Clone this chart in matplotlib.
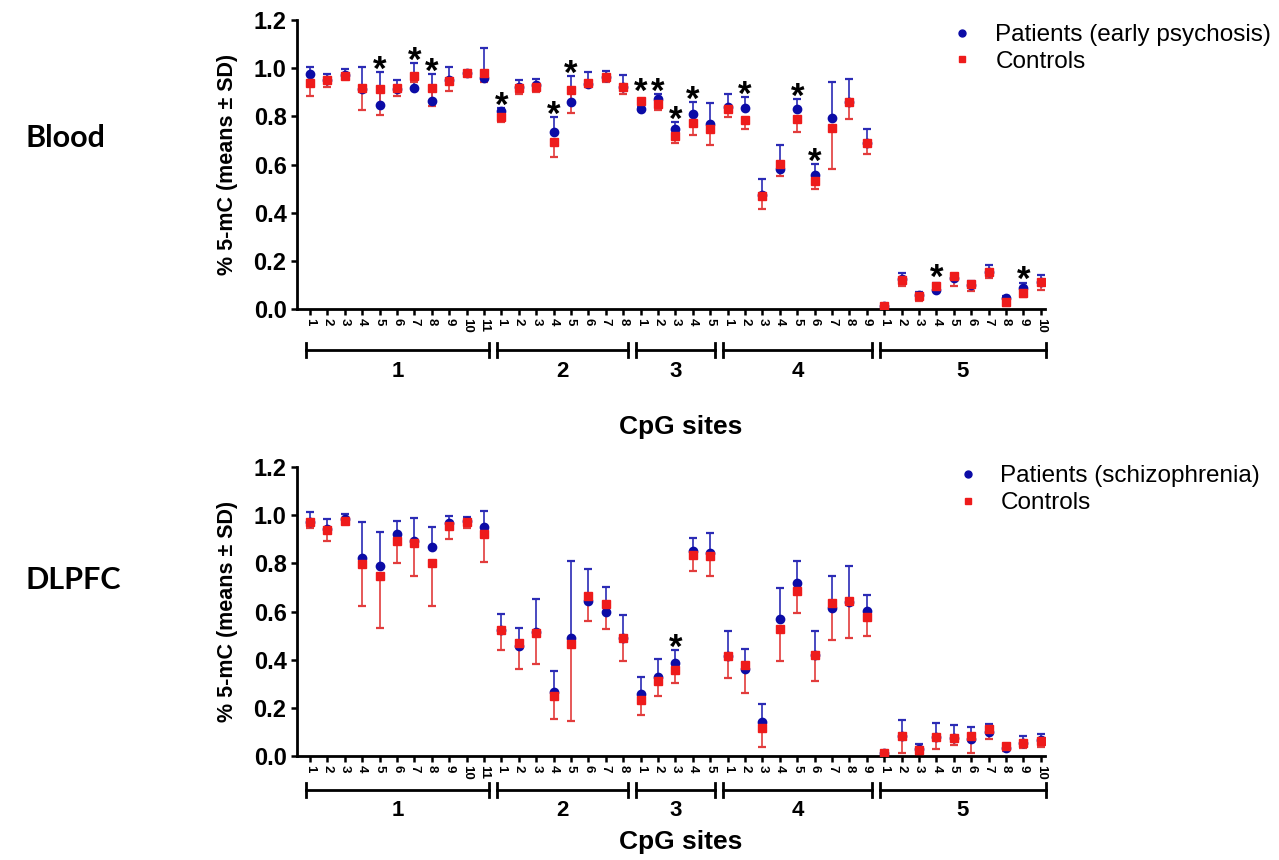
import numpy as np
import matplotlib
matplotlib.use("Agg")
import matplotlib.pyplot as plt
from matplotlib.lines import Line2D
import matplotlib.transforms as mtransforms

plt.rcParams["font.family"] = ["Liberation Sans", "DejaVu Sans"]

# CpG sites per region (5 regions)
group_sizes = [11, 8, 5, 9, 10]
group_names = ["1", "2", "3", "4", "5"]

# Blood: patients (early psychosis) vs controls
blood_pat_mean = [0.975, 0.951, 0.970, 0.912, 0.847, 0.914, 0.916, 0.865, 0.951, 0.980, 0.958,
                  0.822, 0.923, 0.930, 0.734, 0.858, 0.935, 0.962, 0.920,
                  0.830, 0.872, 0.747, 0.810, 0.768,
                  0.840, 0.836, 0.473, 0.580, 0.832, 0.556, 0.794, 0.861, 0.688,
                  0.014, 0.123, 0.058, 0.079, 0.127, 0.100, 0.155, 0.044, 0.086, 0.113]
blood_pat_sd = [0.028, 0.023, 0.025, 0.091, 0.136, 0.037, 0.104, 0.111, 0.052, 0.010, 0.124,
                0.012, 0.028, 0.025, 0.064, 0.109, 0.049, 0.027, 0.052,
                0.010, 0.019, 0.029, 0.048, 0.086,
                0.053, 0.043, 0.065, 0.101, 0.039, 0.045, 0.150, 0.094, 0.059,
                0.006, 0.028, 0.012, 0.031, 0.020, 0.016, 0.028, 0.011, 0.024, 0.027]
blood_ctl_mean = [0.940, 0.950, 0.967, 0.919, 0.912, 0.917, 0.967, 0.917, 0.948, 0.980, 0.981,
                  0.798, 0.917, 0.923, 0.695, 0.908, 0.937, 0.965, 0.920,
                  0.865, 0.850, 0.718, 0.774, 0.746,
                  0.829, 0.785, 0.469, 0.601, 0.790, 0.533, 0.750, 0.861, 0.688,
                  0.014, 0.120, 0.056, 0.095, 0.137, 0.102, 0.155, 0.030, 0.068, 0.113]
blood_ctl_sd = [0.056, 0.027, 0.012, 0.093, 0.107, 0.033, 0.023, 0.074, 0.042, 0.013, 0.039,
                0.020, 0.026, 0.023, 0.063, 0.093, 0.015, 0.021, 0.029,
                0.035, 0.024, 0.028, 0.052, 0.065,
                0.031, 0.039, 0.055, 0.049, 0.054, 0.035, 0.170, 0.070, 0.044,
                0.008, 0.023, 0.021, 0.020, 0.042, 0.027, 0.025, 0.016, 0.018, 0.033]
blood_sig = [(1, 5), (1, 7), (1, 8), (2, 1), (2, 4), (2, 5), (3, 1), (3, 2), (3, 3), (3, 4),
             (4, 2), (4, 5), (4, 6), (5, 4), (5, 9)]

# DLPFC: patients (schizophrenia) vs controls
dlpfc_pat_mean = [0.973, 0.941, 0.984, 0.821, 0.789, 0.920, 0.894, 0.869, 0.966, 0.975, 0.952,
                  0.523, 0.457, 0.514, 0.267, 0.489, 0.645, 0.597, 0.489,
                  0.257, 0.327, 0.388, 0.851, 0.842,
                  0.415, 0.361, 0.142, 0.570, 0.720, 0.419, 0.616, 0.641, 0.603,
                  0.011, 0.083, 0.028, 0.080, 0.076, 0.070, 0.098, 0.032, 0.055, 0.066]
dlpfc_pat_sd = [0.041, 0.043, 0.021, 0.152, 0.142, 0.054, 0.093, 0.083, 0.030, 0.018, 0.066,
                0.067, 0.076, 0.139, 0.086, 0.319, 0.133, 0.103, 0.095,
                0.073, 0.078, 0.052, 0.055, 0.085,
                0.105, 0.085, 0.073, 0.126, 0.090, 0.100, 0.133, 0.148, 0.065,
                0.005, 0.067, 0.022, 0.058, 0.053, 0.050, 0.037, 0.018, 0.028, 0.024]
dlpfc_ctl_mean = [0.970, 0.938, 0.978, 0.797, 0.747, 0.894, 0.886, 0.800, 0.955, 0.973, 0.922,
                  0.523, 0.470, 0.510, 0.250, 0.465, 0.666, 0.630, 0.489,
                  0.233, 0.313, 0.357, 0.835, 0.830,
                  0.415, 0.378, 0.115, 0.527, 0.686, 0.419, 0.634, 0.643, 0.578,
                  0.011, 0.083, 0.025, 0.080, 0.076, 0.085, 0.112, 0.043, 0.055, 0.063]
dlpfc_ctl_sd = [0.025, 0.044, 0.013, 0.173, 0.214, 0.091, 0.139, 0.176, 0.055, 0.028, 0.115,
                0.083, 0.110, 0.128, 0.095, 0.320, 0.104, 0.103, 0.095,
                0.064, 0.064, 0.053, 0.067, 0.083,
                0.093, 0.115, 0.076, 0.131, 0.091, 0.106, 0.152, 0.154, 0.080,
                0.006, 0.072, 0.020, 0.052, 0.030, 0.074, 0.042, 0.023, 0.023, 0.026]
dlpfc_sig = [(3, 3)]

BLUE = "#0b0ba6"
BLUE_ERR = "#2b2bb5"
RED = "#ee1b1b"
RED_ERR = "#e23c3c"

starts = np.cumsum([0] + group_sizes[:-1])
x = np.arange(1, sum(group_sizes) + 1)
tick_labels = [str(i + 1) for n in group_sizes for i in range(n)]


def draw_panel(ax, pat_m, pat_sd, ctl_m, ctl_sd, sig, bracket_y, label_y):
    pat_m, pat_sd = np.array(pat_m), np.array(pat_sd)
    ctl_m, ctl_sd = np.array(ctl_m), np.array(ctl_sd)

    # one-sided SD bars: patients up, controls down
    ax.vlines(x, pat_m, pat_m + pat_sd, color=BLUE_ERR, lw=1.2, zorder=2)
    ax.plot(x, pat_m + pat_sd, ls="none", marker="_", ms=6, mew=1.6, color=BLUE_ERR, zorder=2)
    ax.vlines(x, ctl_m - ctl_sd, ctl_m, color=RED_ERR, lw=1.2, zorder=2)
    ax.plot(x, ctl_m - ctl_sd, ls="none", marker="_", ms=6, mew=1.6, color=RED_ERR, zorder=2)

    ax.plot(x, pat_m, ls="none", marker="o", ms=6, color=BLUE, mec=BLUE, zorder=3)
    ax.plot(x, ctl_m, ls="none", marker="s", ms=6.3, color=RED, mec=RED, zorder=4)

    for g, s in sig:
        i = starts[g - 1] + s - 1
        top = max(pat_m[i] + pat_sd[i], ctl_m[i] + 0.025)
        ax.annotate("*", (x[i], top), xytext=(0, -5.5), textcoords="offset points",
                    ha="center", va="baseline", fontsize=25, fontweight="bold",
                    color="black")

    ax.set_xlim(0.25, 43.25)
    ax.set_ylim(0, 1.2)
    ax.set_yticks(np.arange(0, 1.21, 0.2))
    ax.set_yticklabels([f"{v:.1f}" for v in np.arange(0, 1.21, 0.2)],
                       fontsize=17, fontweight="bold")
    ax.set_xticks(x)
    ax.set_xticklabels(tick_labels, rotation=270, fontsize=9.5, fontweight="bold",
                       ha="center", va="top")
    for side in ["top", "right"]:
        ax.spines[side].set_visible(False)
    for side in ["left", "bottom"]:
        ax.spines[side].set_linewidth(2.0)
    ax.tick_params(axis="both", direction="out", length=4.5, width=1.8, pad=2)
    ax.tick_params(axis="y", pad=3)

    # region brackets below the axis
    trans = mtransforms.blended_transform_factory(ax.transData, ax.transAxes)
    for k, n in enumerate(group_sizes):
        x0 = x[starts[k]] - 0.25
        x1 = x[starts[k] + n - 1] + 0.3
        ax.plot([x0, x1], [bracket_y, bracket_y], color="black", lw=2.0,
                transform=trans, clip_on=False)
        for xe in (x0, x1):
            ax.plot([xe, xe], [bracket_y - 0.024, bracket_y + 0.024], color="black",
                    lw=2.0, transform=trans, clip_on=False)
        ax.text((x0 + x1) / 2, label_y, group_names[k], transform=trans,
                ha="center", va="center", fontsize=16, fontweight="bold")


fig = plt.figure(figsize=(12.79, 8.6), dpi=100)
ax1 = fig.add_axes([0.2322, 0.6407, 0.585, 0.336])
ax2 = fig.add_axes([0.2322, 0.1209, 0.585, 0.336])

draw_panel(ax1, blood_pat_mean, blood_pat_sd, blood_ctl_mean, blood_ctl_sd, blood_sig,
           -0.142, -0.218)
draw_panel(ax2, dlpfc_pat_mean, dlpfc_pat_sd, dlpfc_ctl_mean, dlpfc_ctl_sd, dlpfc_sig,
           -0.118, -0.187)

for ax, yc in ((ax1, 0.809), (ax2, 0.289)):
    fig.text(0.178, yc, "% 5-mC (means \u00b1 SD)", rotation=90, ha="center", va="center",
             fontsize=15.5, fontweight="bold")

fig.text(0.532, 0.5035, "CpG sites", ha="center", va="center", fontsize=19, fontweight="bold")
fig.text(0.532, 0.021, "CpG sites", ha="center", va="center", fontsize=19, fontweight="bold")

fig.text(0.020, 0.840, "Blood", ha="left", va="center", fontsize=22, fontweight="bold",
         family=["Lato", "DejaVu Sans"])
fig.text(0.020, 0.326, "DLPFC", ha="left", va="center", fontsize=22, fontweight="bold",
         family=["Lato", "DejaVu Sans"])

for ax, name, anchor in ((ax1, "Patients (early psychosis)", (0.743, 0.972)),
                         (ax2, "Patients (schizophrenia)", (0.747, 0.459))):
    handles = [Line2D([], [], ls="none", marker="o", ms=5, color=BLUE),
               Line2D([], [], ls="none", marker="s", ms=5, color=RED)]
    ax.legend(handles, [name, "Controls"], loc="upper left", bbox_to_anchor=anchor,
              bbox_transform=fig.transFigure, frameon=False, fontsize=17.5,
              handlelength=1.0, handletextpad=0.85, labelspacing=0.2,
              borderpad=0, borderaxespad=0, numpoints=1)

fig.savefig("out.png", dpi=100)
